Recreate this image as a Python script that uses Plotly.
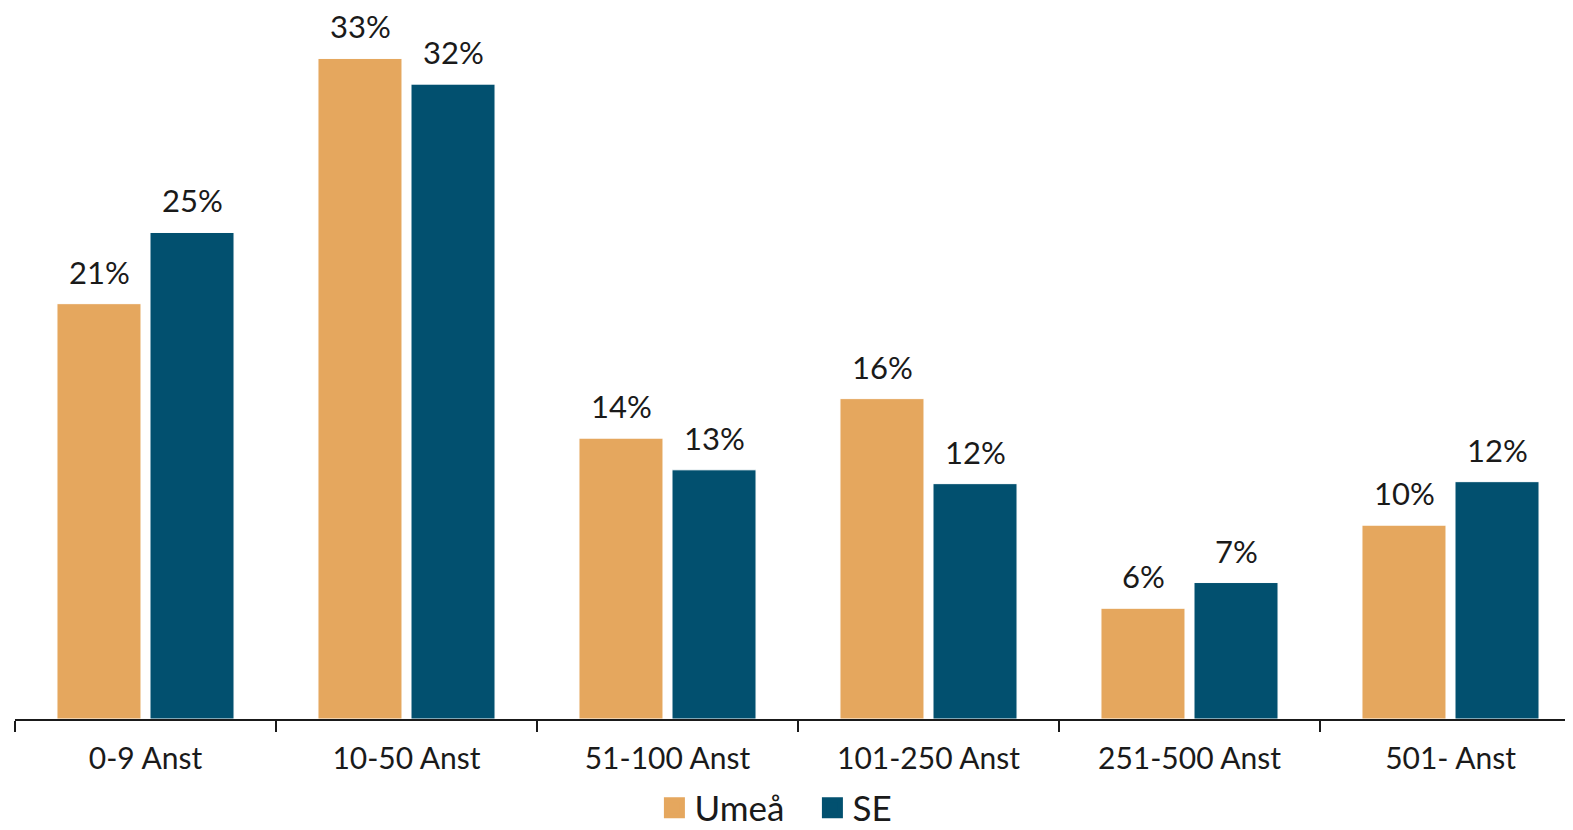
import plotly.graph_objects as go

categories = ["0-9 Anst", "10-50 Anst", "51-100 Anst", "101-250 Anst", "251-500 Anst", "501- Anst"]
umea = [0.210, 0.334, 0.142, 0.162, 0.056, 0.098]
se = [0.246, 0.321, 0.126, 0.119, 0.069, 0.120]
series_names = ["Umeå", "SE"]
colors = ["#E5A75E", "#02506F"]

FONT = "Lato"
TXT = "#1a1a1a"

fig = go.Figure()
for name, vals, col in zip(series_names, [umea, se], colors):
    fig.add_trace(go.Bar(
        x=categories, y=vals, name=name, showlegend=False,
        marker=dict(color=col, line=dict(color="white", width=1)),
    ))
# legend-only markers
for name, col in zip(series_names, colors):
    fig.add_trace(go.Scatter(
        x=[None], y=[None], mode="markers", name=name,
        marker=dict(symbol="square", size=16, color=col, line=dict(color=col, width=5)),
    ))

# value labels
offsets = [-46.5, 46.5]
for vals, dx in zip([umea, se], offsets):
    for c, v in zip(categories, vals):
        fig.add_annotation(
            x=c, y=v, text=f"{v:.0%}", showarrow=False, xshift=dx,
            yanchor="bottom", yshift=11,
            font=dict(family=FONT, size=31, color=TXT),
        )

fig.update_layout(
    width=1565, height=822,
    margin=dict(l=7, r=0, t=0, b=111, autoexpand=False),
    paper_bgcolor="white", plot_bgcolor="white",
    barmode="group", bargap=0.287, bargroupgap=0.097,
    font=dict(family=FONT, color=TXT),
    legend=dict(orientation="h", xref="container", yref="container",
                x=0.514, xanchor="center", y=0.0268, yanchor="middle",
                font=dict(family=FONT, size=35, color=TXT), itemwidth=30,
                entrywidth=113, tracegroupgap=0),
    xaxis=dict(
        range=[-0.5, -0.5 + 1558 / 261], automargin=False,
        showline=True, linecolor="#1a1a1a", linewidth=2,
        ticks="outside", tickson="boundaries", ticklen=11, tickwidth=2, tickcolor="#1a1a1a",
        tickfont=dict(family=FONT, size=30, color=TXT), ticklabelstandoff=12,
        showgrid=False,
    ),
    yaxis=dict(range=[0, 0.3595], visible=False, showgrid=False, automargin=False),
)

fig.write_html("out.html")
